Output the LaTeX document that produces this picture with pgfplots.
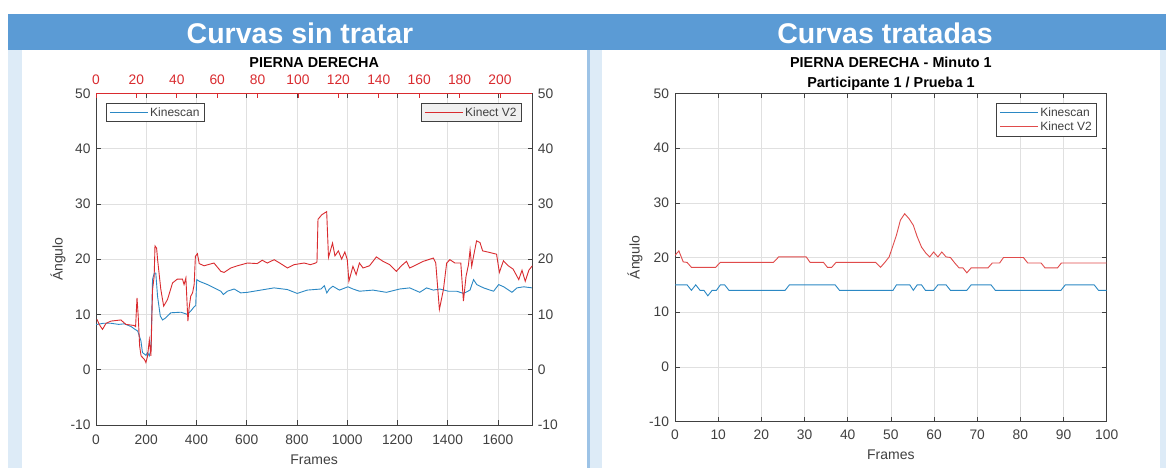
\documentclass[border=0pt]{standalone}
\usepackage{fontspec}
\setmainfont{Liberation Sans}
\usepackage{pgfplots}
\pgfplotsset{compat=1.18}
\definecolor{hdr}{HTML}{5B9BD5}
\definecolor{lblue}{HTML}{DDEBF7}
\definecolor{mblue}{HTML}{9DC3E6}
\definecolor{kblue}{HTML}{2B88C4}
\definecolor{kred}{HTML}{D92B2F}
\definecolor{kredb}{HTML}{E04B4B}
\definecolor{axc}{HTML}{404040}
\definecolor{gridc}{HTML}{E0E0E0}
\definecolor{legbg}{HTML}{F0F0F0}
\pgfplotsset{
  mystyle/.style={
    scale only axis,
    ymin=-10, ymax=50, ytick={-10,0,...,50},
    major tick length=4.5pt,
    tick style={axc, line width=0.5pt},
    axis line style={axc, line width=0.6pt},
    ticklabel style={font=\fontsize{13.8}{14}\selectfont, text=axc},
    /pgf/number format/assume math mode=true,
    /pgf/number format/1000 sep={},
    label style={font=\fontsize{14}{15}\selectfont, text=axc},
    legend style={font=\fontsize{12}{13}\selectfont, draw=axc, line width=0.6pt, text=axc},
    legend cell align=left,
  }
}
\begin{document}
\begin{tikzpicture}
\useasboundingbox (0,0) rectangle (1166pt,468pt);
\fill[white] (0,0) rectangle (1166pt,468pt);
\fill[hdr] (8pt,418pt) rectangle (1166pt,454pt);
\fill[lblue] (8pt,0pt) rectangle (1166pt,418pt);
\fill[white] (22pt,0pt) rectangle (587pt,418pt);
\fill[mblue] (587pt,0pt) rectangle (590pt,418pt);
\fill[white] (602pt,0pt) rectangle (1160pt,418pt);
\node[anchor=base, text=white, font=\bfseries\fontsize{28.5}{30}\selectfont] at (300pt,424.7pt) {Curvas sin tratar};
\node[anchor=base, text=white, font=\bfseries\fontsize{28.5}{30}\selectfont] at (885pt,424.7pt) {Curvas tratadas};

% ---------- Left: bottom axis (Frames) ----------
\begin{axis}[mystyle,
  at={(96pt,43pt)}, anchor=south west, width=436.3pt, height=331.7pt,
  xmin=0, xmax=1737, xtick={0,200,...,1600},
  xticklabel pos=lower, yticklabel pos=left,
  xtick pos=both, ytick pos=both, tick align=inside,
  grid=major, grid style={gridc, line width=0.5pt},
  xticklabel style={yshift=-6.5pt}, yticklabel style={xshift=-2pt},
  xlabel={Frames}, ylabel={Ángulo},
  xlabel style={at={(axis description cs:0.5,-0.1055)}, anchor=center},
  ylabel style={at={(axis description cs:-0.087,0.5)}, anchor=center},
  legend style={at={(0.023,0.97)}, anchor=north west, fill=white},
  legend image code/.code={\draw[#1] (0pt,0pt) -- (38pt,0pt);},
]
\addplot[kblue, line width=0.9pt] coordinates {
(0,8.2)(4,8.2)(30,8.4)(60,8.4)(90,8.2)(113,8.3)(140,7.8)(152,7.4)(166,7.0)(179,5.2)(185,3.1)(199,2.6)(205,3.1)(212,2.5)(219,3.7)(225,16.3)(232,17.5)(238,17.5)(245,13.3)(256,9.7)(265,9.0)(278,9.4)(298,10.3)(338,10.4)(364,10.0)(377,10.6)(391,11.4)(397,11.6)(401,16.3)(411,16.0)(444,15.4)(470,14.8)(497,14.2)(507,13.6)(523,14.2)(550,14.6)(576,13.9)(603,14.0)(656,14.4)(709,14.8)(762,14.5)(801,13.8)(841,14.4)(896,14.6)(909,15.2)(919,13.9)(929,14.6)(943,15.1)(969,14.4)(1003,15.0)(1023,14.6)(1049,14.2)(1103,14.4)(1156,14.0)(1209,14.6)(1249,14.8)(1289,14.0)(1316,14.8)(1343,14.4)(1369,14.6)(1403,14.2)(1436,14.2)(1463,13.8)(1489,14.4)(1503,16.3)(1516,15.4)(1543,14.8)(1569,14.4)(1583,14.2)(1603,15.4)(1623,15.0)(1643,14.4)(1656,14.0)(1676,14.8)(1703,15.0)(1737,14.8)
};
\addlegendentry{Kinescan}
\end{axis}

% ---------- Left: top axis (Kinect samples) ----------
\begin{axis}[mystyle,
  at={(96pt,43pt)}, anchor=south west, width=436.3pt, height=331.7pt,
  xmin=0, xmax=216, xtick={0,20,...,200},
  axis x line*=top, axis y line*=right, tick align=inside,
  x axis line style={kred, -, line width=0.6pt}, y axis line style={axc, -, line width=0.6pt},
  xtick style={kred, line width=0.6pt}, xticklabel style={text=kred, yshift=5pt},
  yticklabel style={xshift=2pt},
  legend style={at={(0.976,0.97)}, anchor=north east, fill=legbg},
  legend image code/.code={\draw[#1] (0pt,0pt) -- (38pt,0pt);},
]
\addplot[kred, line width=0.9pt] coordinates {
(0.5,9.1)(1.6,8.2)(3.2,7.3)(5.0,8.4)(7.5,8.8)(12.3,9.0)(14.8,8.2)(18.9,8.0)(19.6,7.8)(20.3,13.0)(20.9,9.7)(21.6,4.3)(22.3,2.5)(23.9,1.9)(24.7,1.3)(25.5,2.4)(26.4,5.4)(27.2,2.5)(28.0,14.5)(28.8,16.9)(29.2,22.4)(30.0,22.0)(30.5,19.9)(32.1,14.5)(33.5,11.5)(35.4,12.7)(37.9,15.7)(40.3,16.4)(42.8,16.4)(43.6,15.4)(44.5,16.6)(45.0,12.7)(45.5,8.8)(46.1,11.2)(46.9,13.3)(47.8,13.9)(48.6,15.4)(49.2,20.5)(50.2,21.0)(51.1,19.2)(53.5,18.8)(58.4,19.3)(61.8,17.8)(63.4,17.6)(66.7,18.4)(70.0,18.8)(75.0,19.3)(79.8,19.2)(82.3,19.8)(84.8,19.3)(88.2,19.9)(91.4,19.2)(94.8,18.4)(98.0,19.0)(103.0,19.3)(106.2,19.0)(108.7,19.3)(109.4,19.5)(109.9,27.2)(111.7,28.0)(114.2,28.6)(115.1,20.3)(117.1,22.9)(118.3,20.6)(120.0,21.5)(121.6,20.0)(123.2,21.3)(124.4,19.9)(125.2,16.0)(127.2,18.7)(128.8,17.2)(130.4,19.3)(132.2,18.4)(135.4,18.8)(138.8,20.4)(142.1,19.6)(145.4,19.0)(148.7,17.8)(151.2,18.8)(153.7,19.6)(155.3,18.4)(158.7,19.0)(162.0,19.6)(167.0,20.2)(168.2,19.3)(170.0,10.9)(172.0,14.5)(173.6,19.3)(175.2,19.9)(177.7,19.3)(180.6,19.3)(181.9,12.4)(183.2,16.9)(184.4,19.0)(185.2,21.7)(186.0,18.7)(186.9,20.5)(188.4,23.3)(190.1,23.0)(191.4,21.5)(195.0,21.2)(198.3,20.9)(199.7,17.6)(201.7,19.7)(204.1,18.8)(206.5,18.2)(209.3,16.3)(210.9,18.0)(212.5,16.0)(214.3,18.0)(216.0,18.8)
};
\addlegendentry{Kinect V2}
\end{axis}
\node[anchor=base, font=\bfseries\fontsize{14.4}{15}\selectfont] at (314.2pt,400.3pt) {PIERNA DERECHA};

% ---------- Right plot ----------
\begin{axis}[mystyle,
  at={(675pt,46.3pt)}, anchor=south west, width=431.7pt, height=328.4pt,
  xmin=0, xmax=100, xtick={0,10,...,100},
  xticklabel pos=lower, yticklabel pos=left,
  xtick pos=both, ytick pos=both, tick align=inside,
  grid=major, grid style={gridc, line width=0.5pt},
  xticklabel style={yshift=-5pt}, yticklabel style={xshift=-2.5pt},
  xlabel={Frames}, ylabel={Ángulo},
  xlabel style={at={(axis description cs:0.5,-0.101)}, anchor=center},
  ylabel style={at={(axis description cs:-0.0927,0.5)}, anchor=center},
  legend style={at={(0.9775,0.970)}, anchor=north east, fill=white},
  legend image code/.code={\draw[#1] (0pt,0pt) -- (38pt,0pt);},
]
\addplot[kblue, line width=0.9pt] coordinates {
(0,15)(2.8,15)(3.8,14)(4.8,15)(5.8,14)(6.7,14)(7.6,13)(8.6,14)(9.6,14)(10.5,15)(11.5,15)(12.5,14)(25.5,14)(26.5,15)(37.1,15)(38.1,14)(50.5,14)(51.3,15)(54.4,15)(55.2,14)(56.1,15)(57.1,15)(58,14)(59.9,14)(60.9,15)(62.8,15)(63.8,14)(67.6,14)(68.6,15)(73.2,15)(74.2,14)(89.4,14)(90.4,15)(97.1,15)(98.1,14)(100,14)
};
\addlegendentry{Kinescan}
\addplot[kredb, line width=0.9pt] coordinates {
(0,20.4)(0.9,21.2)(1.9,19.2)(2.8,19.1)(3.8,18.2)(9.4,18.2)(10.5,19.1)(22.8,19.1)(24,20.1)(30.4,20.1)(31.3,19.1)(34.4,19.1)(35.3,18.2)(36.3,18.2)(37.3,19.1)(46.5,19.1)(47.6,18.2)(48.6,19.1)(49.6,20.1)(50.5,22.2)(51.3,24.1)(52.2,26.8)(53.2,28.0)(54.2,27.1)(55.2,25.9)(56.1,23.8)(57.1,21.9)(58.1,20.8)(59,20.1)(59.9,21.0)(60.9,20.1)(61.8,21.0)(62.8,20.1)(63.8,20)(64.8,19)(65.8,18.1)(66.7,18.1)(67.6,17.2)(68.6,18.1)(72.5,18.1)(73.5,19)(75.2,19)(76.1,20)(80.7,20)(81.7,19)(84.8,19)(85.7,18.1)(88.6,18.1)(89.5,19)(100,19)
};
\addlegendentry{Kinect V2}
\end{axis}
\node[anchor=base, font=\bfseries\fontsize{14.4}{15}\selectfont] at (890.9pt,400.3pt) {PIERNA DERECHA - Minuto 1};
\node[anchor=base, font=\bfseries\fontsize{14.4}{15}\selectfont] at (890.9pt,380.7pt) {Participante 1 / Prueba 1};
\end{tikzpicture}
\end{document}
